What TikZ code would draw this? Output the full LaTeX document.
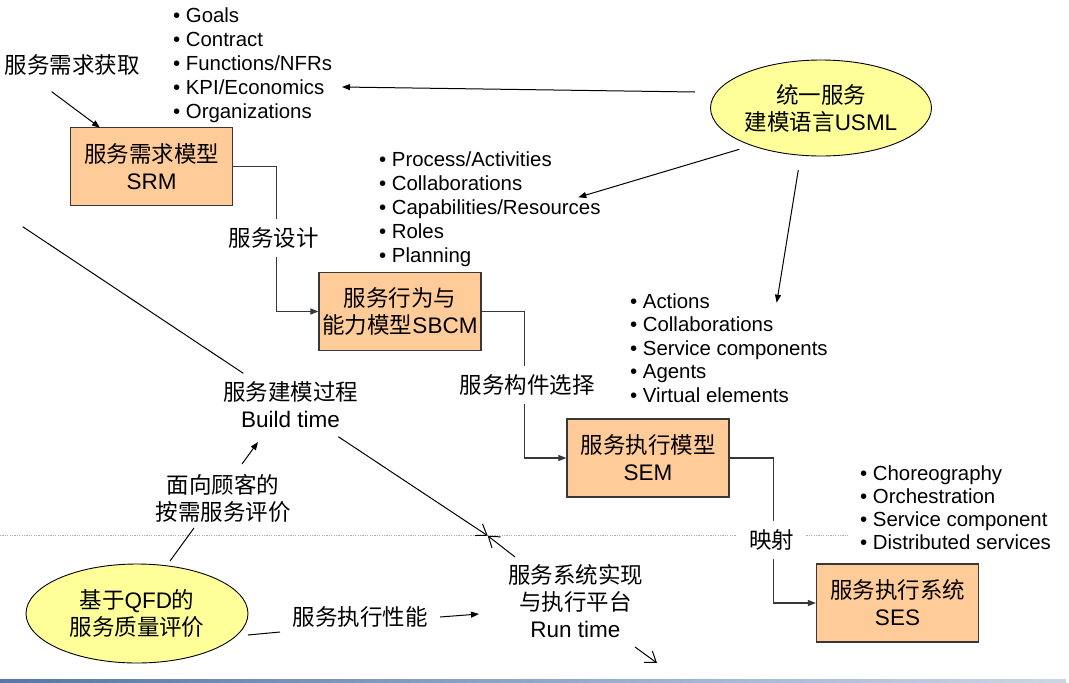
\documentclass[tikz,border=0pt]{standalone}
\usepackage{fontspec}
\setmainfont{Liberation Sans}
\newfontfamily\cjk{Noto Sans CJK SC}
\usetikzlibrary{arrows.meta,shapes.geometric,calc}
\newcommand\zh[1]{{\cjk #1}}
\newcommand\bigtxt{\fontsize{22.5}{27}\selectfont}
\newcommand\smalltxt{\fontsize{20.4}{24}\selectfont}
\definecolor{boxfill}{HTML}{FFCC99}
\definecolor{ellfill}{HTML}{FFFF99}
\definecolor{linecol}{HTML}{383838}
\definecolor{barL}{HTML}{5777A9}
\definecolor{barR}{HTML}{CAD6E8}
\begin{document}
\begin{tikzpicture}[x=1pt,y=-1pt,
  model/.style={draw=linecol, line width=1.2pt, fill=boxfill, minimum width=162pt, minimum height=78pt, inner sep=0pt, align=center, font=\bigtxt},
  oval/.style={ellipse, draw=black, line width=0.9pt, fill=ellfill, inner sep=0pt, align=center, font=\bigtxt},
  plain/.style={inner sep=0pt, align=center, font=\bigtxt},
  lbl/.style={fill=white, inner xsep=12pt, inner ysep=9pt, font=\bigtxt},
  item/.style={anchor=base west, inner sep=0pt, font=\smalltxt},
  conn/.style={draw=linecol, line width=1.1pt},
  thin/.style={draw=black, line width=1pt},
  arr/.style={conn, -{Triangle[length=8pt,width=6pt]}},
  tarr/.style={thin, -{Triangle[length=8pt,width=6pt]}},
  oarr/.style={thin, -{Straight Barb[length=10pt,width=14pt]}},
]
\useasboundingbox (0,0) rectangle (1069,683);
\fill[white] (0,0) rectangle (1069,683);
% separator and bottom bar
\draw[gray!65, line width=0.8pt, dash pattern=on 1.2pt off 1.2pt] (0,535) -- (848,535);
\shade[left color=barL, right color=barR] (0,679) rectangle (1066,683);

% model boxes
\node[model] (srm) at (151.5,166.5) {\zh{服务需求模型}\\SRM};
\node[model] (sbcm) at (400,311.5) {\zh{服务行为与}\\\zh{能力模型}SBCM};
\node[model] (sem) at (648,458) {\zh{服务执行模型}\\SEM};
\node[model] (ses) at (897.5,603) {\zh{服务执行系统}\\SES};

% ellipses
\node[oval, minimum width=221pt, minimum height=96pt] (usml) at (821,108) {\zh{统一服务}\\\zh{建模语言}USML};
\node[oval, minimum width=222pt, minimum height=99pt] (qfd) at (137,613.5) {\zh{基于}QFD\zh{的}\\\zh{服务质量评价}};

% free texts
\node[plain] (req) at (72.5,65) {\zh{服务需求获取}};
\node[plain] (build) at (290.5,405) {\zh{服务建模过程}\\Build time};
\node[plain] (cust) at (223,498) {\zh{面向顾客的}\\\zh{按需服务评价}};
\node[plain] (perf) at (360,617) {\zh{服务执行性能}};
\node[plain] (run) at (575.5,601.5) {\zh{服务系统实现}\\\zh{与执行平台}\\Run time};

% bullet lists
\foreach \t [count=\i from 0] in {Goals,Contract,{Functions/NFRs},{KPI/Economics},Organizations}
  \node[item] (a\i) at (172.9,22+24*\i) {• \t};
\foreach \t [count=\i from 0] in {{Process/Activities},Collaborations,{Capabilities/Resources},Roles,Planning}
  \node[item] (b\i) at (378.9,166+24*\i) {• \t};
\foreach \t [count=\i from 0] in {Actions,Collaborations,{Service components},Agents,{Virtual elements}}
  \node[item] (c\i) at (629.9,308+23.5*\i) {• \t};
\begin{scope}
  \clip (0,0) rectangle (1049,683);
  \foreach \t [count=\i from 0] in {Choreography,Orchestration,{Service component},{Distributed services}}
    \node[item] (d\i) at (859.9,480+23.3*\i) {• \t};
\end{scope}

% elbow connectors between models
\draw[arr] (srm.east) -- ++(43.5,0) |- (sbcm.west);
\draw[arr] (sbcm.east) -- ++(43,0) |- (sem.west);
\draw[arr] (sem.east) -- ++(44,0) |- (ses.west);
\node[lbl] (l1) at (273.5,238) {\zh{服务设计}};
\node[lbl] (l2) at (527,385) {\zh{服务构件选择}};
\node[lbl] (l3) at (771.7,540) {\zh{映射}};

% arrows from USML
\coordinate (u1s) at (695,92);   \coordinate (u1e) at (342,87);
\coordinate (u2s) at (739.3,149.3); \coordinate (u2e) at (578.3,197.3);
\coordinate (u3s) at (798.3,170); \coordinate (u3e) at (776.7,302.7);
\draw[tarr] (u1s) -- (u1e);
\draw[tarr] (u2s) -- (u2e);
\draw[tarr] (u3s) -- (u3e);

% requirement acquisition arrow
\coordinate (r1) at (51.7,91.7); \coordinate (r2) at (100,127.7);
\draw[tarr] (r1) -- (r2);

% build time / run time lines
\coordinate (p1) at (22.7,226.7); \coordinate (p2) at (243.3,373.3);
\draw[thin] (p1) -- (p2);
\coordinate (m) at (487.7,535.7);
\coordinate (p3) at (338.3,436.7);
\draw[oarr] (p3) -- (m);
\coordinate (p4) at (515,557);
\draw[oarr] (p4) -- (m);
\coordinate (p5) at (635,647); \coordinate (p6) at (657,663);
\draw[oarr] (p5) -- (p6);

% evaluation arrows
\coordinate (e1) at (242,464); \coordinate (e2) at (258,442);
\draw[tarr] (e1) -- (e2);
\coordinate (e3) at (170,561); \coordinate (e4) at (194,528);
\draw[thin] (e3) -- (e4);
\coordinate (e5) at (248,635); \coordinate (e6) at (280,632);
\draw[thin] (e5) -- (e6);
\coordinate (e7) at (440,617); \coordinate (e8) at (479,614);
\draw[tarr] (e7) -- (e8);
\end{tikzpicture}
\end{document}
